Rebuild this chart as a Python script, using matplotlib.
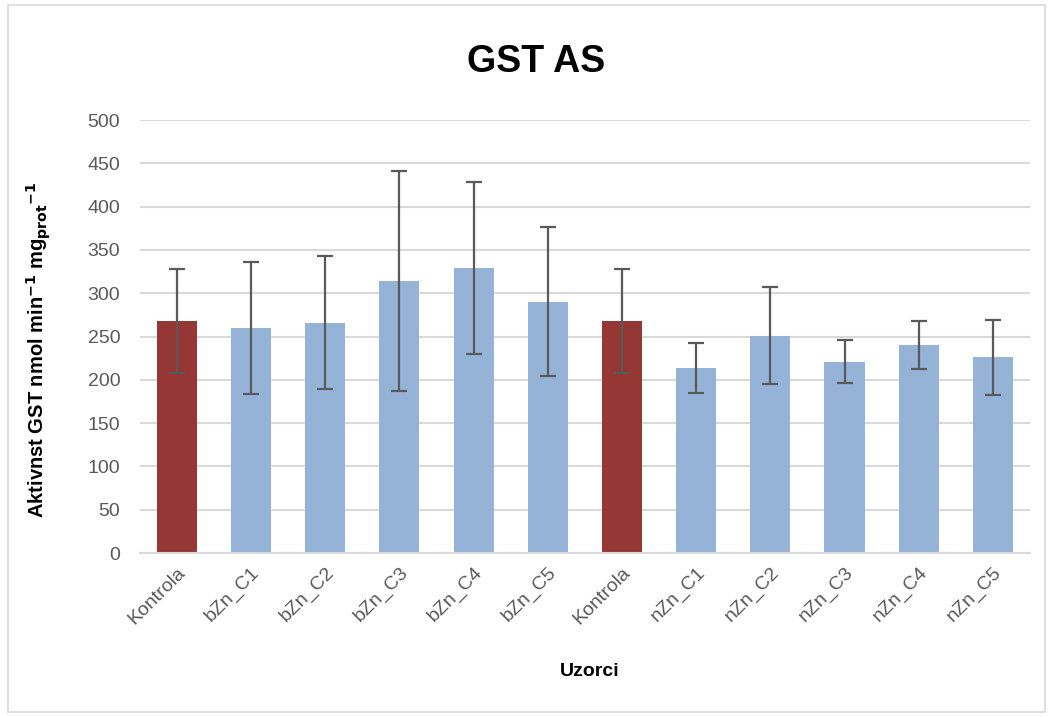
import matplotlib
matplotlib.use('Agg')
import numpy as np
import matplotlib.pyplot as plt
from matplotlib.patches import Rectangle

matplotlib.rcParams['font.family'] = ['Liberation Sans', 'DejaVu Sans']

# data
samples = ['Kontrola', 'bZn_C1', 'bZn_C2', 'bZn_C3', 'bZn_C4', 'bZn_C5',
           'Kontrola', 'nZn_C1', 'nZn_C2', 'nZn_C3', 'nZn_C4', 'nZn_C5']
activity = [268, 260, 266, 314, 329, 290, 268, 214, 251, 221, 240, 226]
sd = [60, 76, 77, 127, 99, 86, 60, 29, 56, 25, 27.5, 43]
is_control = [True, False, False, False, False, False,
              True, False, False, False, False, False]

red = '#953735'
blue = '#95B3D7'
grey = '#595959'

fig = plt.figure(figsize=(10.51, 7.17), dpi=100)
ax = fig.add_axes([0.133, 0.2287, 0.847, 0.6039])

x = np.arange(len(samples))
colors = [red if c else blue for c in is_control]
ax.bar(x, activity, width=0.54, color=colors, zorder=2)
ax.errorbar(x, activity, yerr=sd, fmt='none', ecolor=grey, elinewidth=1.6,
            capsize=5.5, capthick=1.6, zorder=3)

ax.set_xlim(-0.5, len(samples) - 0.5)
ax.set_ylim(0, 500)
ax.set_yticks(np.arange(0, 501, 50))
ax.yaxis.grid(True, color='#D9D9D9', linewidth=1.5, zorder=0)
ax.set_axisbelow(True)
for s in ['left', 'right', 'top']:
    ax.spines[s].set_visible(False)
ax.spines['bottom'].set_color('#D9D9D9')
ax.spines['bottom'].set_linewidth(1.5)
ax.tick_params(axis='both', length=0, labelsize=14, labelcolor=grey)
ax.tick_params(axis='y', pad=14)
ax.tick_params(axis='x', pad=8)
ax.set_xticks(x)
ax.set_xticklabels(samples, rotation=45, ha='right', va='top',
                   rotation_mode='anchor')

fig.text(0.51, 0.913, 'GST AS', fontsize=27, fontweight='bold',
         ha='center', va='center')
ax.set_xlabel('Uzorci', fontsize=14, fontweight='bold')
ax.xaxis.set_label_coords(0.505, -0.255)
ax.set_ylabel(r'Aktivnst GST nmol min$^{\mathbf{-1}}$ mg$_{\mathbf{prot}}$$^{\mathbf{-1}}$',
              fontsize=14.5, fontweight='bold')
ax.yaxis.set_label_coords(-0.098, 0.47)

# chart border
fig.patches.append(Rectangle((0.008, 0.007), 0.986, 0.986, transform=fig.transFigure,
                             fill=False, edgecolor='#D9D9D9', linewidth=1.2))

plt.savefig('out.png', dpi=100)
